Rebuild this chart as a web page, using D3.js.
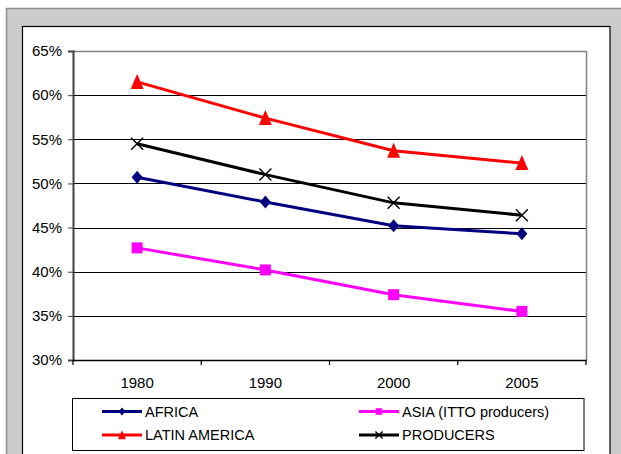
<!DOCTYPE html>
<html><head><meta charset="utf-8">
<script src="https://cdn.jsdelivr.net/npm/d3@7"></script>
<style>
html,body{margin:0;padding:0;background:#fff;}
svg{display:block;font-family:"Liberation Sans",Arial,sans-serif;}
</style></head>
<body><svg id="c" width="621" height="454"></svg>
<script>
const years = ["1980","1990","2000","2005"];
const africa = [0.507, 0.479, 0.452, 0.443];
const asia = [0.427, 0.402, 0.374, 0.355];
const latinAmerica = [0.615, 0.574, 0.537, 0.523];
const producers = [0.545, 0.510, 0.478, 0.464];
const yTicks = [0.30,0.35,0.40,0.45,0.50,0.55,0.60,0.65];
const seriesNames = ["AFRICA","ASIA (ITTO producers)","LATIN AMERICA","PRODUCERS"];

const svg = d3.select("#c");
// frame
svg.append("rect").attr("x",6.5).attr("y",8.5).attr("width",630).attr("height",460)
  .attr("fill","#cccccc").attr("stroke","#8c8c8c").attr("stroke-width",1.5);
svg.append("rect").attr("x",22.5).attr("y",26.5).attr("width",587.5).attr("height",450)
  .attr("fill","#ffffff").attr("stroke","#000").attr("stroke-width",1.2);

const L=73, R=586, T=51, B=360;
const x = d3.scaleBand().domain(years).range([L,R]).padding(0);
const y = d3.scaleLinear().domain([0.30,0.65]).range([B,T]);
const cx = d => x(d)+x.bandwidth()/2;

// grid
svg.append("g").selectAll("line").data(yTicks.filter(t=>t>0.3 && t<0.65)).join("line")
  .attr("x1",L).attr("x2",R).attr("y1",d=>Math.round(y(d))+0.5).attr("y2",d=>Math.round(y(d))+0.5)
  .attr("stroke","#000").attr("stroke-width",1);
// plot border top/right
svg.append("path").attr("d",`M${L},${Math.round(T)+0.5}H${R+0.5}V${B}`).attr("fill","none")
  .attr("stroke","#808080").attr("stroke-width",1.5);

// y axis
const yAxis = d3.axisLeft(y).tickValues(yTicks).tickFormat(d3.format(".0%")).tickSize(5).tickPadding(6);
const gy = svg.append("g").attr("transform",`translate(${L},0)`).call(yAxis);
gy.select(".domain").attr("stroke","#404040").attr("stroke-width",2);
gy.selectAll(".tick line").attr("stroke","#404040");
gy.selectAll(".tick text").attr("font-size",15).attr("fill","#000").attr("font-family","Liberation Sans, Arial, sans-serif");

// x axis
const gx = svg.append("g").attr("transform",`translate(0,${B})`).call(d3.axisBottom(x).tickSize(0).tickPadding(17));
gx.select(".domain").attr("stroke","#000").attr("stroke-width",1.5);
gx.selectAll(".tick text").attr("font-size",15).attr("fill","#000").attr("font-family","Liberation Sans, Arial, sans-serif");
const bounds = years.map(d=>x(d)).concat([R]);
svg.append("g").selectAll("line").data(bounds).join("line")
  .attr("x1",d=>d).attr("x2",d=>d).attr("y1",B).attr("y2",B+5).attr("stroke","#000").attr("stroke-width",1.2);

// marker painters
function marker(g, type, px, py, s){
  if(type==="diamond") g.append("path").attr("d",`M${px},${py-6.5*s}L${px+5.5*s},${py}L${px},${py+6.5*s}L${px-5.5*s},${py}Z`).attr("fill","#000080");
  else if(type==="square") g.append("rect").attr("x",px-5.5*s).attr("y",py-5.5*s).attr("width",11*s).attr("height",11*s).attr("fill","#ff00ff");
  else if(type==="triangle") g.append("path").attr("d",`M${px},${py-8*s}L${px+6.5*s},${py+7*s}L${px-6.5*s},${py+7*s}Z`).attr("fill","#ff0000");
  else if(type==="x") g.append("path").attr("d",`M${px-6*s},${py-6*s}L${px+6*s},${py+6*s}M${px+6*s},${py-6*s}L${px-6*s},${py+6*s}`).attr("stroke","#000").attr("stroke-width",1.4).attr("fill","none");
}

const series = [
  {name:seriesNames[0], vals:africa, color:"#000080", m:"diamond"},
  {name:seriesNames[1], vals:asia, color:"#ff00ff", m:"square"},
  {name:seriesNames[2], vals:latinAmerica, color:"#ff0000", m:"triangle"},
  {name:seriesNames[3], vals:producers, color:"#000000", m:"x"}
];
const line = d3.line().x((d,i)=>cx(years[i])).y(d=>y(d));
const drawOrder = [0,1,2,3];
drawOrder.forEach(k=>{
  const s = series[k];
  const g = svg.append("g");
  g.append("path").attr("d",line(s.vals)).attr("fill","none").attr("stroke",s.color).attr("stroke-width",3);
  s.vals.forEach((v,i)=>marker(g,s.m,cx(years[i]),y(v),1));
});

// legend
svg.append("rect").attr("x",72.5).attr("y",398.5).attr("width",511.5).attr("height",52)
  .attr("fill","#fff").attr("stroke","#000").attr("stroke-width",1);
const pos = [[102,411.5],[359,411.5],[102,435],[359,435]];
series.forEach((s,k)=>{
  const [lx,ly]=pos[k];
  const g = svg.append("g");
  g.append("line").attr("x1",lx).attr("x2",lx+40).attr("y1",ly).attr("y2",ly).attr("stroke",s.color).attr("stroke-width",3);
  marker(g,s.m,lx+20,ly,0.6);
  g.append("text").attr("x",lx+43).attr("y",ly).attr("dy","0.35em").attr("font-size",14.5).text(s.name);
});
</script></body></html>
